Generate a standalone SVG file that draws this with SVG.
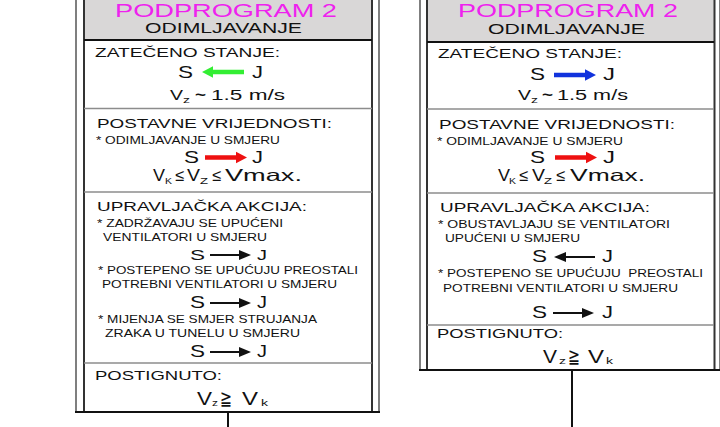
<svg xmlns="http://www.w3.org/2000/svg" xmlns:xlink="http://www.w3.org/1999/xlink" width="720" height="427" viewBox="0 0 720 427">
<style>
text{font-family:"Liberation Sans","DejaVu Sans",Arial,sans-serif;fill:#111}
.h1{font-size:18px;fill:#ee22ee}
.h2{font-size:14px}
.sec{font-size:13.5px}
.sm{font-size:11px}
.sj{font-size:17px}
.sj2{font-size:15.5px}
.big{font-size:16.5px}
.vv{font-size:19px}
.ge{font-size:20px}
.sub{font-size:9px}
.le{font-size:15px}
.sep{stroke:#8c8c8c;stroke-width:1.5}
.fo{stroke:#555;stroke-width:1.5}
.fi{stroke:#333;stroke-width:2}
.bot{stroke:#111;stroke-width:2}
.hdr{fill:#d9d7d7}
.pre{white-space:pre}
</style>
<defs>
<polygon id="blk" points="0,-2.3 31,-2.3 31,-5.8 42,0 31,5.8 31,2.3 0,2.3"/>
<g id="thn"><line x1="0" y1="0" x2="31" y2="0" stroke="#111" stroke-width="2"/><polygon points="29,-5 41,0 29,5" fill="#111"/></g>
</defs>

<g id="connectors">
<line x1="228" y1="412" x2="228" y2="427" stroke="#111" stroke-width="2"/>
<line x1="572" y1="370" x2="572" y2="427" stroke="#111" stroke-width="2"/>
</g>

<g id="node-left">
<rect class="hdr" x="84" y="0" width="288" height="40"/>
<line class="fo" x1="76" y1="0" x2="76" y2="412"/>
<line class="fi" x1="84" y1="0" x2="84" y2="412"/>
<line class="fi" x1="372" y1="0" x2="372" y2="412"/>
<line class="fo" x1="379" y1="0" x2="379" y2="412"/>
<line class="bot" x1="75" y1="412" x2="380" y2="412"/>
<line stroke="#111" stroke-width="1.8" x1="84" y1="40" x2="372" y2="40"/>
<line class="sep" x1="84" y1="108.5" x2="372" y2="108.5"/>
<line class="sep" x1="84" y1="192" x2="372" y2="192"/>
<line class="sep" x1="84" y1="363" x2="372" y2="363"/>

<text class="h1" x="115" y="17" textLength="222" lengthAdjust="spacingAndGlyphs">PODPROGRAM 2</text>
<text class="h2" x="145" y="33" textLength="157" lengthAdjust="spacingAndGlyphs">ODIMLJAVANJE</text>

<text class="sec" x="95" y="57" textLength="185" lengthAdjust="spacingAndGlyphs">ZATEČENO STANJE:</text>
<text class="sj" x="178" y="78" textLength="15" lengthAdjust="spacingAndGlyphs">S</text>
<use xlink:href="#blk" transform="translate(244,72) scale(-1,1)" fill="#33ee33"/>
<text class="sj" x="252" y="78" textLength="11" lengthAdjust="spacingAndGlyphs">J</text>
<text class="le" x="170" y="100" textLength="13" lengthAdjust="spacingAndGlyphs">V</text>
<text class="sub" x="183" y="103" textLength="7" lengthAdjust="spacingAndGlyphs">z</text>
<text class="le" x="195" y="100" textLength="11" lengthAdjust="spacingAndGlyphs" font-weight="bold">~</text>
<text class="le" x="211" y="100" textLength="74" lengthAdjust="spacingAndGlyphs">1.5 m/s</text>

<text class="sec" x="97" y="127.5" textLength="235" lengthAdjust="spacingAndGlyphs">POSTAVNE VRIJEDNOSTI:</text>
<text class="sm" x="96" y="143.5" textLength="184" lengthAdjust="spacingAndGlyphs">* ODIMLJAVANJE U SMJERU</text>
<text class="sj" x="184" y="163" textLength="15" lengthAdjust="spacingAndGlyphs">S</text>
<use xlink:href="#blk" transform="translate(205,157.5)" fill="#ee1111"/>
<text class="sj" x="252" y="163" textLength="11" lengthAdjust="spacingAndGlyphs">J</text>
<text class="big" x="153" y="181" textLength="12" lengthAdjust="spacingAndGlyphs">V</text>
<text class="sub" x="165" y="184" textLength="7" lengthAdjust="spacingAndGlyphs">K</text>
<text class="big" x="175" y="181" textLength="9" lengthAdjust="spacingAndGlyphs">≤</text>
<text class="big" x="187" y="181" textLength="13" lengthAdjust="spacingAndGlyphs">V</text>
<text class="sub" x="200" y="184" textLength="8" lengthAdjust="spacingAndGlyphs">Z</text>
<text class="big" x="212" y="181" textLength="9" lengthAdjust="spacingAndGlyphs">≤</text>
<text class="big" x="225" y="181" textLength="77" lengthAdjust="spacingAndGlyphs">Vmax.</text>

<text class="sec" x="97" y="211" textLength="210" lengthAdjust="spacingAndGlyphs">UPRAVLJAČKA AKCIJA:</text>
<text class="sm" x="97" y="227" textLength="186" lengthAdjust="spacingAndGlyphs">* ZADRŽAVAJU SE UPUĆENI</text>
<text class="sm" x="103" y="241" textLength="164" lengthAdjust="spacingAndGlyphs">VENTILATORI U SMJERU</text>
<text class="sj2" x="190" y="260" textLength="15" lengthAdjust="spacingAndGlyphs">S</text>
<use xlink:href="#thn" transform="translate(210,255)"/>
<text class="sj2" x="257" y="260" textLength="10" lengthAdjust="spacingAndGlyphs">J</text>
<text class="sm" x="98" y="274" textLength="260" lengthAdjust="spacingAndGlyphs">* POSTEPENO SE UPUĆUJU PREOSTALI</text>
<text class="sm" x="102" y="288" textLength="235" lengthAdjust="spacingAndGlyphs">POTREBNI VENTILATORI U SMJERU</text>
<text class="sj" x="190" y="308" textLength="15" lengthAdjust="spacingAndGlyphs">S</text>
<use xlink:href="#thn" transform="translate(210,303)"/>
<text class="sj" x="257" y="308" textLength="10" lengthAdjust="spacingAndGlyphs">J</text>
<text class="sm" x="98" y="323" textLength="219" lengthAdjust="spacingAndGlyphs">* MIJENJA SE SMJER STRUJANJA</text>
<text class="sm" x="105" y="337" textLength="195" lengthAdjust="spacingAndGlyphs">ZRAKA U TUNELU U SMJERU</text>
<text class="sj" x="190" y="357" textLength="15" lengthAdjust="spacingAndGlyphs">S</text>
<use xlink:href="#thn" transform="translate(210,352)"/>
<text class="sj" x="257" y="357" textLength="10" lengthAdjust="spacingAndGlyphs">J</text>

<text class="sec" x="95" y="380" textLength="127" lengthAdjust="spacingAndGlyphs">POSTIGNUTO:</text>
<text class="vv" x="197" y="405" textLength="15" lengthAdjust="spacingAndGlyphs">V</text>
<text class="sub" x="212" y="406" textLength="6" lengthAdjust="spacingAndGlyphs">z</text>
<text class="ge" x="220" y="405" textLength="12" lengthAdjust="spacingAndGlyphs">≧</text>
<text class="vv" x="242" y="405" textLength="16" lengthAdjust="spacingAndGlyphs">V</text>
<text class="sub" x="261" y="406" textLength="7" lengthAdjust="spacingAndGlyphs">k</text>
</g>

<g id="node-right">
<rect class="hdr" x="427" y="0" width="287" height="42"/>
<line class="fo" x1="420" y1="0" x2="420" y2="370"/>
<line class="fi" x1="427" y1="0" x2="427" y2="370"/>
<line class="fi" x1="714.5" y1="0" x2="714.5" y2="370"/>
<line class="fo" x1="720" y1="0" x2="720" y2="370"/>
<line class="bot" x1="419" y1="370" x2="720" y2="370"/>
<line stroke="#111" stroke-width="1.8" x1="427" y1="42" x2="714" y2="42"/>
<line class="sep" x1="427" y1="109" x2="714" y2="109"/>
<line class="sep" x1="427" y1="193" x2="714" y2="193"/>
<line class="sep" x1="427" y1="325" x2="714" y2="325"/>

<text class="h1" x="458" y="17" textLength="220" lengthAdjust="spacingAndGlyphs">PODPROGRAM 2</text>
<text class="h2" x="488" y="34" textLength="157" lengthAdjust="spacingAndGlyphs">ODIMLJAVANJE</text>

<text class="sec" x="438" y="58" textLength="184" lengthAdjust="spacingAndGlyphs">ZATEČENO STANJE:</text>
<text class="sj" x="530" y="80" textLength="15" lengthAdjust="spacingAndGlyphs">S</text>
<use xlink:href="#blk" transform="translate(554,75)" fill="#1133dd"/>
<text class="sj" x="603" y="80" textLength="12" lengthAdjust="spacingAndGlyphs">J</text>
<text class="le" x="518" y="100" textLength="13" lengthAdjust="spacingAndGlyphs">V</text>
<text class="sub" x="531" y="103" textLength="7" lengthAdjust="spacingAndGlyphs">z</text>
<text class="le" x="542" y="100" textLength="11" lengthAdjust="spacingAndGlyphs" font-weight="bold">~</text>
<text class="le" x="557" y="100" textLength="71" lengthAdjust="spacingAndGlyphs">1.5 m/s</text>

<text class="sec" x="439" y="129" textLength="236" lengthAdjust="spacingAndGlyphs">POSTAVNE VRIJEDNOSTI:</text>
<text class="sm" x="437" y="145" textLength="186" lengthAdjust="spacingAndGlyphs">* ODIMLJAVANJE U SMJERU</text>
<text class="sj" x="530" y="163" textLength="15" lengthAdjust="spacingAndGlyphs">S</text>
<use xlink:href="#blk" transform="translate(555,157.5)" fill="#ee1111"/>
<text class="sj" x="603" y="163" textLength="12" lengthAdjust="spacingAndGlyphs">J</text>
<text class="big" x="498" y="181" textLength="12" lengthAdjust="spacingAndGlyphs">V</text>
<text class="sub" x="509" y="184" textLength="7" lengthAdjust="spacingAndGlyphs">K</text>
<text class="big" x="519" y="181" textLength="9" lengthAdjust="spacingAndGlyphs">≤</text>
<text class="big" x="532" y="181" textLength="13" lengthAdjust="spacingAndGlyphs">V</text>
<text class="sub" x="544" y="184" textLength="8" lengthAdjust="spacingAndGlyphs">Z</text>
<text class="big" x="556" y="181" textLength="9" lengthAdjust="spacingAndGlyphs">≤</text>
<text class="big" x="570" y="181" textLength="75" lengthAdjust="spacingAndGlyphs">Vmax.</text>

<text class="sec" x="440" y="212" textLength="210" lengthAdjust="spacingAndGlyphs">UPRAVLJAČKA AKCIJA:</text>
<text class="sm" x="438" y="228" textLength="232" lengthAdjust="spacingAndGlyphs">* OBUSTAVLJAJU SE VENTILATORI</text>
<text class="sm" x="445" y="242" textLength="135" lengthAdjust="spacingAndGlyphs">UPUĆENI U SMJERU</text>
<text class="sj" x="532" y="262" textLength="15" lengthAdjust="spacingAndGlyphs">S</text>
<use xlink:href="#thn" transform="translate(595,257) scale(-1,1)"/>
<text class="sj" x="602" y="262" textLength="11" lengthAdjust="spacingAndGlyphs">J</text>
<text class="sm pre" x="438" y="277" textLength="265" lengthAdjust="spacingAndGlyphs">* POSTEPENO SE UPUĆUJU  PREOSTALI</text>
<text class="sm" x="443" y="292" textLength="235" lengthAdjust="spacingAndGlyphs">POTREBNI VENTILATORI U SMJERU</text>
<text class="sj" x="532" y="318" textLength="15" lengthAdjust="spacingAndGlyphs">S</text>
<use xlink:href="#thn" transform="translate(553,313)"/>
<text class="sj" x="602" y="318" textLength="11" lengthAdjust="spacingAndGlyphs">J</text>

<text class="sec" x="437" y="338" textLength="126" lengthAdjust="spacingAndGlyphs">POSTIGNUTO:</text>
<text class="vv" x="543" y="363" textLength="14" lengthAdjust="spacingAndGlyphs">V</text>
<text class="sub" x="559" y="364" textLength="7" lengthAdjust="spacingAndGlyphs">z</text>
<text class="ge" x="568" y="363" textLength="12" lengthAdjust="spacingAndGlyphs">≧</text>
<text class="vv" x="588" y="363" textLength="16" lengthAdjust="spacingAndGlyphs">V</text>
<text class="sub" x="606" y="364" textLength="7" lengthAdjust="spacingAndGlyphs">k</text>
</g>
</svg>
